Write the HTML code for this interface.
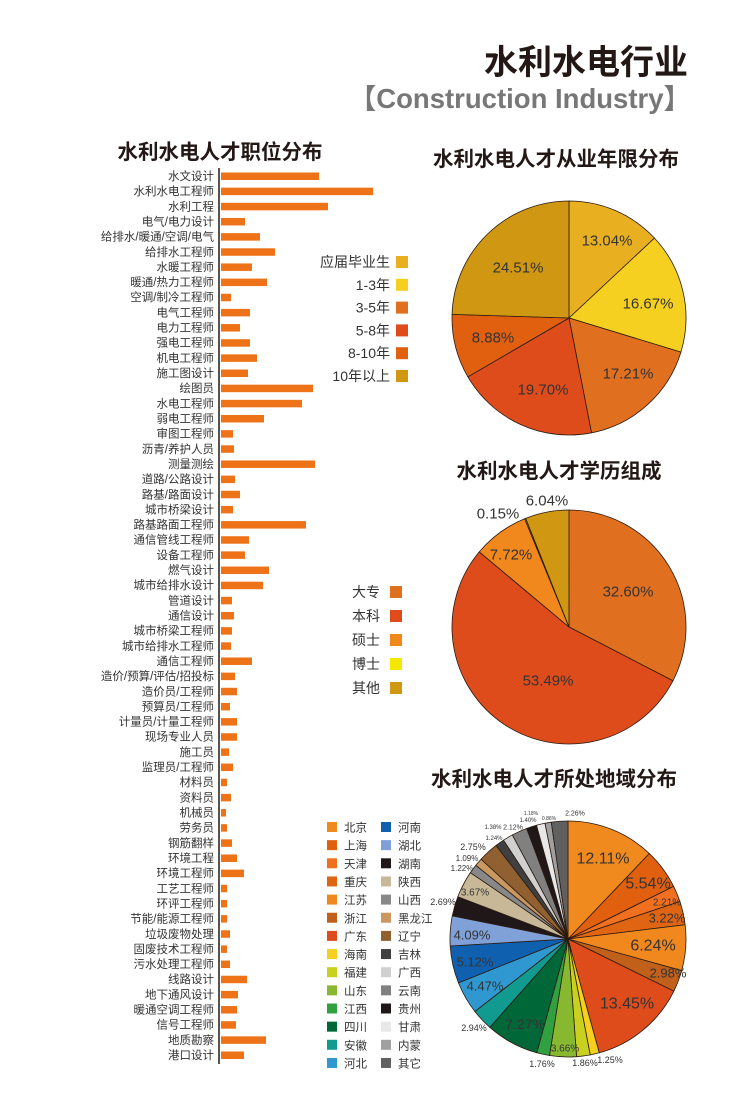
<!DOCTYPE html>
<html><head><meta charset="utf-8"><style>
html,body{margin:0;padding:0;background:#fff;}
svg{display:block;font-family:"Liberation Sans","Noto Sans CJK SC",sans-serif;}
</style></head><body>
<svg id="s" width="730" height="1107" viewBox="0 0 730 1107" xmlns="http://www.w3.org/2000/svg">
<text x="688" y="74" text-anchor="end" font-size="34" font-weight="bold" fill="#231815">水利水电行业</text>
<text x="691" y="108" text-anchor="end" font-size="27.5" font-weight="bold" fill="#777">【Construction Industry】</text>
<text x="220" y="159" text-anchor="middle" font-size="20.5" font-weight="bold" fill="#231815">水利水电人才职位分布</text>
<text x="556" y="166" text-anchor="middle" font-size="20.5" font-weight="bold" fill="#231815">水利水电人才从业年限分布</text>
<text x="559" y="478" text-anchor="middle" font-size="20.5" font-weight="bold" fill="#231815">水利水电人才学历组成</text>
<text x="554" y="786" text-anchor="middle" font-size="20.5" font-weight="bold" fill="#231815">水利水电人才所处地域分布</text>
<line x1="219" y1="168" x2="219" y2="1064" stroke="#231815" stroke-width="1.5"/>
<g id="bars"></g><g id="pies"></g>
</svg>
<script>
var NS="http://www.w3.org/2000/svg";
function el(p,t,a,txt){var e=document.createElementNS(NS,t);for(var k in a)e.setAttribute(k,a[k]);if(txt!=null)e.textContent=txt;p.appendChild(e);return e;}
var bars=[["水文设计",319],["水利水电工程师",373],["水利工程",328],["电气/电力设计",245],["给排水/暖通/空调/电气",260],["给排水工程师",275],["水暖工程师",252],["暖通/热力工程师",267],["空调/制冷工程师",231],["电气工程师",250],["电力工程师",240],["强电工程师",250],["机电工程师",257],["施工图设计",248],["绘图员",313],["水电工程师",302],["弱电工程师",264],["审图工程师",233],["沥青/养护人员",234],["测量测绘",315],["道路/公路设计",235],["路基/路面设计",240],["城市桥梁设计",233],["路基路面工程师",306],["通信管线工程师",249],["设备工程师",245],["燃气设计",269],["城市给排水设计",263],["管道设计",232],["通信设计",234],["城市桥梁工程师",232],["城市给排水工程师",231],["通信工程师",252],["造价/预算/评估/招投标",235],["造价员/工程师",237],["预算员/工程师",230],["计量员/计量工程师",237],["现场专业人员",237],["施工员",229],["监理员/工程师",233],["材料员",227],["资料员",231],["机械员",226],["劳务员",227],["钢筋翻样",232],["环境工程",237],["环境工程师",244],["工艺工程师",227],["环评工程师",227],["节能/能源工程师",227],["垃圾废物处理",230],["固废技术工程师",227],["污水处理工程师",230],["线路设计",247],["地下通风设计",238],["暖通空调工程师",237],["信号工程师",236],["地质勘察",266],["港口设计",244]];
var g=document.getElementById("bars");
bars.forEach(function(b,i){var y=176+i*(1055-176)/58;
el(g,"text",{x:214,y:y+4,"text-anchor":"end","font-size":"11.5",fill:"#333"},b[0]);
el(g,"rect",{x:221,y:y-3.5,width:b[1]-221,height:7.5,fill:"#ee7318"});});
var P=document.getElementById("pies");
function pie(cx,cy,r,data){var tot=0;data.forEach(function(d){tot+=d[0];});var a=-Math.PI/2;
data.forEach(function(d){var a2=a+d[0]/tot*2*Math.PI;var x1=cx+r*Math.cos(a),y1=cy+r*Math.sin(a),x2=cx+r*Math.cos(a2),y2=cy+r*Math.sin(a2);
el(P,"path",{d:"M"+cx+","+cy+"L"+x1+","+y1+"A"+r+","+r+" 0 "+((a2-a)>Math.PI?1:0)+" 1 "+x2+","+y2+"Z",fill:d[1],stroke:"#2a1a10","stroke-width":"0.8"});a=a2;});}
function lbl(arr,fs){arr.forEach(function(l){el(P,"text",{x:l[1],y:l[2]+(l[3]||fs)*0.35,"text-anchor":"middle","font-size":l[3]||fs,fill:"#333"},l[0]);});}
pie(569,318,117,[[13.04,"#e8b020"],[16.67,"#f5d020"],[17.21,"#e07020"],[19.70,"#de4c1c"],[8.88,"#e06010"],[24.51,"#cf9712"]]);
lbl([["13.04%",607,240],["16.67%",648,303],["17.21%",628,373],["19.70%",543,389],["8.88%",493,337],["24.51%",518,267]],15);
pie(569,627,117,[[32.60,"#e07020"],[53.49,"#de4c1c"],[7.72,"#f0881e"],[0.15,"#f5e800"],[6.04,"#cf9712"]]);
lbl([["32.60%",628,591],["53.49%",548,680],["7.72%",511,554],["0.15%",498,513],["6.04%",547,500]],15);
var reg=[["北京",12.11,"#f08a1e"],["上海",5.54,"#e06010"],["天津",2.21,"#f07020"],["重庆",3.22,"#e06512"],["江苏",6.24,"#f0881e"],["浙江",2.98,"#c0601a"],["广东",13.45,"#de4c1c"],["海南",1.25,"#f5d020"],["福建",1.86,"#c8d020"],["山东",3.66,"#88b830"],["江西",1.76,"#30a040"],["四川",7.27,"#006838"],["安徽",2.94,"#109a90"],["河北",4.47,"#3098d0"],["河南",5.12,"#1060b0"],["湖北",4.09,"#80a0d8"],["湖南",2.69,"#201818"],["陕西",3.67,"#c8b898"],["山西",1.22,"#888888"],["黑龙江",1.09,"#c89860"],["辽宁",2.75,"#906030"],["吉林",1.24,"#404040"],["广西",1.38,"#d0d0d0"],["云南",2.12,"#808080"],["贵州",1.40,"#201818"],["甘肃",1.18,"#e8e8e8"],["内蒙",0.86,"#a0a0a0"],["其它",2.26,"#606060"]];
pie(568,939,118,reg.map(function(r){return [r[1],r[2]];}));
lbl([["12.11%",603,858,16],["5.54%",648,883,16],["2.21%",667,902,10],["3.22%",667,918,13],["6.24%",653,945,16],["2.98%",668,973,13],["13.45%",627,1003,16],["1.25%",610,1060,9],["1.86%",585,1063,9],["3.66%",565,1048,10],["1.76%",542,1064,9],["7.27%",525,1024,14],["2.94%",474,1028,9],["4.47%",485,986,13],["5.12%",475,962,13],["4.09%",472,935,13],["2.69%",443,902,9],["3.67%",475,892,10],["1.22%",462,868,8],["1.09%",467,858,8],["2.75%",473,847,9],["1.24%",494,838,6],["1.38%",493,827,6],["2.12%",513,827,7],["1.40%",528,820,6],["1.18%",531,813,5],["0.86%",549,818,5],["2.26%",575,813,7]],12);
[["应届毕业生","#e8b020"],["1-3年","#f5d020"],["3-5年","#e07020"],["5-8年","#de4c1c"],["8-10年","#e06010"],["10年以上","#cf9712"]].forEach(function(l,i){var y=262+i*22.8;
el(P,"text",{x:390,y:y+5,"text-anchor":"end","font-size":"14",fill:"#333"},l[0]);el(P,"rect",{x:396,y:y-6,width:12,height:12,fill:l[1]});});
[["大专","#e07020"],["本科","#de4c1c"],["硕士","#f0881e"],["博士","#f5e800"],["其他","#cf9712"]].forEach(function(l,i){var y=592+i*24;
el(P,"text",{x:352,y:y+5,"font-size":"14",fill:"#333"},l[0]);el(P,"rect",{x:390,y:y-6,width:12,height:12,fill:l[1]});});
reg.forEach(function(r,i){var c=i<14?0:1,k=i%14,y=827+k*18.15,x=c?381:327;
el(P,"rect",{x:x,y:y-5,width:10,height:10,fill:r[2]});el(P,"text",{x:x+17,y:y+4.5,"font-size":"11.5",fill:"#333"},r[0]);});
</script>
</body></html>
